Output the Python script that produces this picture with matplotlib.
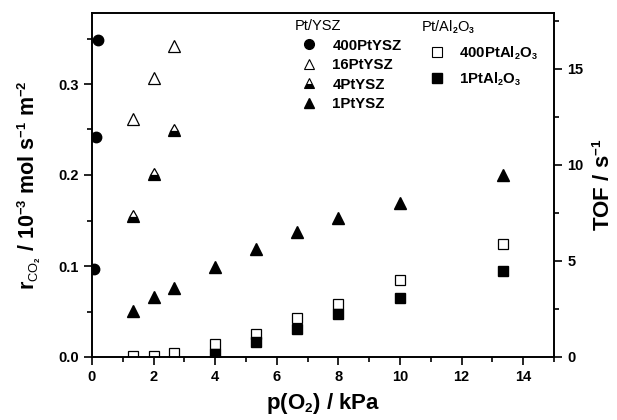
import matplotlib
matplotlib.use("Agg")
import matplotlib.pyplot as plt
from matplotlib.ticker import MultipleLocator, FormatStrFormatter
from matplotlib.lines import Line2D
import matplotlib._mathtext as _mt

_mt.SHRINK_FACTOR = 0.6

plt.rcParams['font.family'] = ['Liberation Sans', 'DejaVu Sans']
plt.rcParams['mathtext.fontset'] = 'custom'
plt.rcParams['mathtext.rm'] = 'Liberation Sans:bold'
plt.rcParams['mathtext.bf'] = 'Liberation Sans:bold'
plt.rcParams['mathtext.it'] = 'Liberation Sans'

# Data
x_400ptysz = [0.2, 0.13, 0.08]
y_400ptysz = [0.348, 0.242, 0.097]

x_16ptysz = [1.33, 2.0, 2.67]
y_16ptysz = [0.261, 0.307, 0.342]

x_4ptysz = [1.33, 2.0, 2.67]
y_4ptysz = [0.155, 0.201, 0.249]

x_1ptysz = [1.33, 2.0, 2.67, 4.0, 5.33, 6.67, 8.0, 10.0, 13.33]
y_1ptysz = [0.051, 0.066, 0.076, 0.099, 0.119, 0.137, 0.153, 0.169, 0.200]

x_400ptal = [1.33, 2.0, 2.67, 4.0, 5.33, 6.67, 8.0, 10.0, 13.33]
y_400ptal = [0.001, 0.001, 0.004, 0.014, 0.025, 0.043, 0.058, 0.085, 0.124]

x_1ptal = [4.0, 5.33, 6.67, 8.0, 10.0, 13.33]
y_1ptal = [0.003, 0.016, 0.031, 0.047, 0.065, 0.095]

fig = plt.figure(figsize=(6.17, 4.2), dpi=100)
ax = fig.add_axes([0.149, 0.15, 0.749, 0.819])

ax.plot(x_400ptysz, y_400ptysz, 'o', ms=7.5, mfc='black', mec='black', ls='none')
ax.plot(x_16ptysz, y_16ptysz, '^', ms=8.5, mfc='white', mec='black', mew=0.9, ls='none')
ax.plot(x_4ptysz, y_4ptysz, '^', ms=8.5, mfc='black', mfcalt='white', fillstyle='bottom', mec='black', mew=0.9, ls='none')
ax.plot(x_1ptysz, y_1ptysz, '^', ms=8.5, mfc='black', mec='black', ls='none')
ax.plot(x_400ptal, y_400ptal, 's', ms=7, mfc='white', mec='black', mew=0.9, ls='none')
ax.plot(x_1ptal, y_1ptal, 's', ms=7, mfc='black', mec='black', ls='none')

ax.set_xlim(0, 15)
ax.set_ylim(0, 0.378)
ax.xaxis.set_major_locator(MultipleLocator(2))
ax.xaxis.set_minor_locator(MultipleLocator(1))
ax.yaxis.set_major_locator(MultipleLocator(0.1))
ax.yaxis.set_minor_locator(MultipleLocator(0.05))
ax.yaxis.set_major_formatter(FormatStrFormatter('%.1f'))
ax.tick_params(which='both', direction='out', top=False, right=False, width=1.2)
ax.tick_params(which='major', length=6, labelsize=10.5)
ax.tick_params(which='minor', length=3.5)
for lab in ax.get_xticklabels() + ax.get_yticklabels():
    lab.set_fontweight('bold')
for s in ax.spines.values():
    s.set_linewidth(1.2)

ax.set_xlabel(r'p(O$_2$) / kPa', fontsize=16, fontweight='bold', labelpad=5)
ax.set_ylabel(r'r$_{CO_2}$ / 10$^{-3}$ mol s$^{-1}$ m$^{-2}$', fontsize=15.5, fontweight='bold', labelpad=11)

ax2 = ax.twinx()
ax2.set_ylim(0, 17.9)
ax2.yaxis.set_major_locator(MultipleLocator(5))
ax2.yaxis.set_minor_locator(MultipleLocator(2.5))
ax2.tick_params(which='both', direction='out', width=1.2)
ax2.tick_params(which='major', length=6, labelsize=10.5)
ax2.tick_params(which='minor', length=3.5)
for lab in ax2.get_yticklabels():
    lab.set_fontweight('bold')
for s in ax2.spines.values():
    s.set_linewidth(1.2)
ax2.set_ylabel(r'TOF / s$^{-1}$', fontsize=16, fontweight='bold', labelpad=7)

h1 = [
    Line2D([], [], marker='o', ls='none', ms=7, mfc='black', mec='black'),
    Line2D([], [], marker='^', ls='none', ms=7.5, mfc='white', mec='black', mew=0.8),
    Line2D([], [], marker='^', ls='none', ms=7.5, mfc='black', mfcalt='white', fillstyle='bottom', mec='black', mew=0.8),
    Line2D([], [], marker='^', ls='none', ms=7.5, mfc='black', mec='black'),
]
l1 = ['400PtYSZ', '16PtYSZ', '4PtYSZ', '1PtYSZ']
leg1 = ax2.legend(h1, l1, title='Pt/YSZ', loc='upper left', bbox_to_anchor=(0.426, 1.0),
                  frameon=False, prop={'weight': 'bold', 'size': 10.8}, title_fontsize=10.5,
                  handlelength=1.9, handletextpad=0.6, labelspacing=0.37, borderpad=0.2,
                  borderaxespad=0.2)
leg1._legend_box.align = 'left'
ax2.add_artist(leg1)

h2 = [
    Line2D([], [], marker='s', ls='none', ms=6.5, mfc='white', mec='black', mew=0.8),
    Line2D([], [], marker='s', ls='none', ms=6.5, mfc='black', mec='black'),
]
l2 = [r'400PtAl$_2$O$_3$', r'1PtAl$_2$O$_3$']
leg2 = ax2.legend(h2, l2, title=r'Pt/Al$_\mathit{2}$O$_\mathit{3}$', loc='upper left',
                  bbox_to_anchor=(0.70, 1.0),
                  frameon=False, prop={'weight': 'bold', 'size': 10.8}, title_fontsize=10.5,
                  handlelength=2.1, handletextpad=0.4, labelspacing=0.55, borderpad=0.2,
                  borderaxespad=0.2)
leg2._legend_box.align = 'left'

fig.savefig('out.png', dpi=100)
